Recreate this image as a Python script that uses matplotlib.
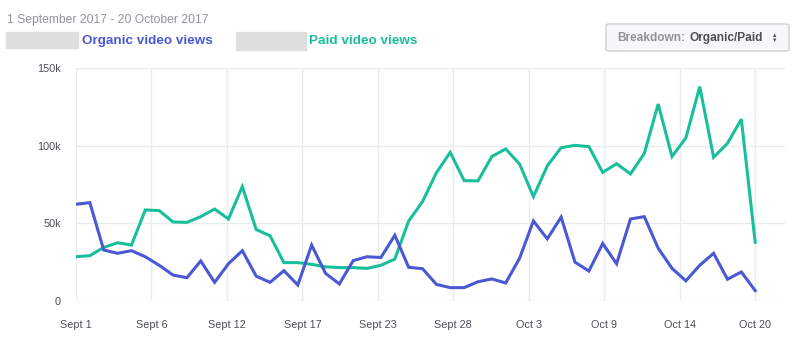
import numpy as np
import matplotlib.pyplot as plt
from matplotlib.patches import Rectangle, FancyBboxPatch

plt.rcParams['font.family'] = ['Liberation Sans', 'DejaVu Sans']

# ------------------------------------------------------------------------------
# Data (daily views, 1 Sept 2017 - 20 Oct 2017), in thousands
# ------------------------------------------------------------------------------
organic = [62.3, 63.3, 32.8, 30.7, 32.4, 28.5, 23.0, 16.7, 15.0, 25.8,
           12.0, 24.0, 32.4, 16.0, 12.0, 19.5, 10.3, 36.0, 17.8, 11.0,
           26.0, 28.5, 28.0, 42.3, 21.7, 20.8, 10.7, 8.6, 8.6, 12.4,
           14.2, 11.6, 27.5, 51.5, 40.0, 54.0, 25.0, 19.3, 37.0, 24.0,
           52.8, 54.3, 34.0, 21.0, 13.0, 23.0, 30.7, 14.0, 18.7, 6.7]
paid = [28.5, 29.2, 34.5, 37.5, 36.0, 58.6, 58.2, 50.9, 50.6, 54.3,
        59.2, 52.8, 73.6, 46.0, 42.0, 24.7, 24.7, 23.6, 22.0, 21.5,
        21.5, 21.0, 23.0, 27.0, 51.5, 64.0, 82.6, 95.7, 77.5, 77.3,
        93.0, 97.9, 88.2, 67.2, 87.0, 98.7, 100.2, 99.4, 82.8, 88.4,
        81.8, 95.0, 126.8, 93.0, 105.0, 138.0, 92.5, 101.5, 117.0, 37.8]
days = np.arange(len(organic))

tick_labels = ["Sept 1", "Sept 6", "Sept 12", "Sept 17", "Sept 23",
               "Sept 28", "Oct 3", "Oct 9", "Oct 14", "Oct 20"]
y_ticks = [0, 50, 100, 150]
y_labels = ["0", "50k", "100k", "150k"]

BLUE = "#4a58d3"
GREEN = "#19bf9b"
GRID = "#e9ebee"
GRAY = "#90949c"
DARK = "#4b4f56"

# ------------------------------------------------------------------------------
# Figure
# ------------------------------------------------------------------------------
fig = plt.figure(figsize=(8, 3.44), dpi=100)
ax = fig.add_axes([76 / 800, 1 - 301 / 344, 709 / 800, 233 / 344])

ax.plot(days, paid, color=GREEN, lw=2.2, solid_joinstyle='miter', zorder=3)
ax.plot(days, organic, color=BLUE, lw=2.2, solid_joinstyle='miter', zorder=4)

ax.set_xlim(0, 51.15)
ax.set_ylim(0, 150)

xt = np.linspace(0, len(days) - 1, len(tick_labels))
ax.set_xticks(xt)
ax.set_xticklabels(tick_labels, fontsize=7.8, color=DARK)
ax.set_yticks(y_ticks)
ax.set_yticklabels(y_labels, fontsize=7.8, color=DARK)
ax.tick_params(axis='x', length=0, pad=14)
ax.tick_params(axis='y', length=0, pad=17 - 6)
ax.grid(True, color=GRID, lw=1)
ax.set_axisbelow(True)
for s in ax.spines.values():
    s.set_visible(False)

# header texts
fig.text(7 / 800, 1 - 20 / 344, "1 September 2017 - 20 October 2017",
         fontsize=8.7, color=GRAY, va='center')
fig.patches.append(Rectangle((6 / 800, 1 - 48 / 344), 72 / 800, 16 / 344,
                             transform=fig.transFigure, color="#dedede"))
fig.text(82 / 800, 1 - 41 / 344, "Organic video views", fontsize=9.7,
         color=BLUE, fontweight='bold', va='center')
fig.patches.append(Rectangle((236 / 800, 1 - 50 / 344), 70 / 800, 18 / 344,
                             transform=fig.transFigure, color="#dedede"))
fig.text(309 / 800, 1 - 41 / 344, "Paid video views", fontsize=9.7,
         color=GREEN, fontweight='bold', va='center')

# breakdown box
fig.patches.append(FancyBboxPatch((606 / 800, 1 - 51 / 344), 183 / 800, 27 / 344,
                                  boxstyle="round,pad=0,rounding_size=0.004",
                                  transform=fig.transFigure, facecolor="#f6f7f9",
                                  edgecolor="#ced0d4", lw=1))
fig.text(685 / 800, 1 - 38 / 344, "Breakdown:", fontsize=8.6, color=GRAY,
         fontweight='bold', va='center', ha='right')
fig.text(763 / 800, 1 - 38 / 344, "Organic/Paid", fontsize=8.6, color=DARK,
         fontweight='bold', va='center', ha='right')
fig.text(775 / 800, 1 - 35.5 / 344, "▲", fontsize=4, color=DARK, ha='center', va='center')
fig.text(775 / 800, 1 - 40.5 / 344, "▼", fontsize=4, color=DARK, ha='center', va='center')

fig.savefig("out.png", dpi=100, facecolor='white')
